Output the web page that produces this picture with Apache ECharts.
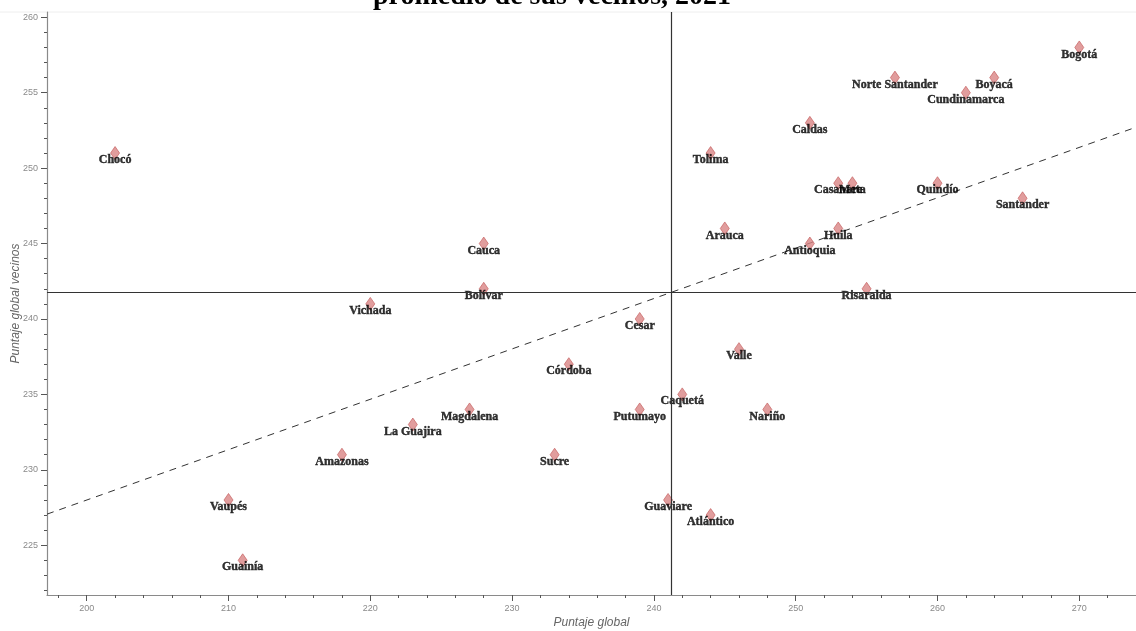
<!DOCTYPE html>
<html>
<head>
<meta charset="utf-8">
<title>Puntaje global vs vecinos</title>
<script src="https://cdn.jsdelivr.net/npm/echarts@6.0.0/dist/echarts.min.js"></script>
<style>
    html, body { margin: 0; padding: 0; background: #fff; }
    #moran-chart { width: 1136px; height: 631px; }
</style>
</head>
<body>
<div id="moran-chart"></div>
<script>
// departamentos: puntaje global vs promedio de los vecinos (2021)
var departamentos = ['Chocó', 'Bogotá', 'Norte Santander', 'Boyacá', 'Cundinamarca', 'Caldas', 'Tolima',
    'Casanare', 'Meta', 'Quindío', 'Santander', 'Arauca', 'Huila', 'Antioquia', 'Risaralda', 'Cauca',
    'Bolívar', 'Vichada', 'Cesar', 'Córdoba', 'Valle', 'Caquetá', 'Putumayo', 'Nariño', 'Magdalena',
    'La Guajira', 'Amazonas', 'Sucre', 'Guaviare', 'Atlántico', 'Vaupés', 'Guainía'];
var puntajeGlobal = [202, 270, 257, 264, 262, 251, 244, 253, 254, 260, 266, 245, 253, 251, 255, 228,
    228, 220, 239, 234, 246, 242, 239, 248, 227, 223, 218, 233, 241, 244, 210, 211];
var puntajeVecinos = [251, 258, 256, 256, 255, 253, 251, 249, 249, 249, 248, 246, 246, 245, 242, 245,
    242, 241, 240, 237, 238, 235, 234, 234, 234, 233, 231, 231, 228, 227, 228, 224];

// medias y recta de ajuste
var mediaX = 241.2;
var mediaY = 241.75;
var rectaAjuste = [[197.2, 227.06], [274, 252.71]];

// ejes
var xLabels = [200, 210, 220, 230, 240, 250, 260, 270];
var xMinorTicks = [198, 200, 202, 204, 206, 208, 210, 212, 214, 216, 218, 220, 222, 224, 226, 228, 230,
    232, 234, 236, 238, 240, 242, 244, 246, 248, 250, 252, 254, 256, 258, 260, 262, 264, 266, 268, 270, 272, 274];
var yLabels = [225, 230, 235, 240, 245, 250, 255, 260];
var yMinorTicks = [222, 223, 224, 225, 226, 227, 228, 229, 230, 231, 232, 233, 234, 235, 236, 237, 238, 239,
    240, 241, 242, 243, 244, 245, 246, 247, 248, 249, 250, 251, 252, 253, 254, 255, 256, 257, 258, 259, 260];

var puntos = [];
departamentos.forEach(function (nombre, i) {
    puntos.push({ name: nombre, value: [puntajeGlobal[i], puntajeVecinos[i]] });
});

var axisGray = '#8a8a8a';
var tickFont = { color: '#8a8a8a', fontSize: 9, fontFamily: 'Liberation Sans' };

var chart = echarts.init(document.getElementById('moran-chart'));
var option = {
    animation: false,
    backgroundColor: '#fff',
    graphic: [{
        // titulo (cortado arriba como en el original)
        type: 'text',
        x: 373,
        y: -17,
        style: {
            text: 'promedio de sus vecinos, 2021',
            font: 'bold 28px "Liberation Serif"',
            fill: '#000',
            verticalAlign: 'top'
        }
    }, {
        // marco superior
        type: 'line',
        shape: { x1: 0, y1: 12, x2: 1136, y2: 12 },
        style: { stroke: '#eeeeee', lineWidth: 1 }
    }],
    grid: { left: 47, right: 0, top: 12, bottom: 36, outerBoundsMode: 'none', containLabel: false },
    xAxis: [{
        type: 'value',
        min: 197.2,
        max: 274,
        name: 'Puntaje global',
        nameLocation: 'middle',
        nameGap: 22,
        nameMoveOverlap: false,
        nameTextStyle: { color: '#666', fontSize: 12, fontStyle: 'italic', fontFamily: 'Liberation Sans' },
        axisLine: { show: true, lineStyle: { color: axisGray, width: 1.2 } },
        axisTick: { show: true, length: 3, customValues: xMinorTicks, lineStyle: { color: '#555' } },
        axisLabel: Object.assign({ customValues: xLabels, margin: 9 }, tickFont),
        splitLine: { show: false }
    }, {
        // ticks mayores
        type: 'value',
        gridIndex: 0,
        position: 'bottom',
        min: 197.2,
        max: 274,
        axisLine: { show: false },
        axisTick: { show: true, length: 6, customValues: xLabels, lineStyle: { color: '#555' } },
        axisLabel: { show: false },
        splitLine: { show: false }
    }],
    yAxis: [{
        type: 'value',
        min: 221.7,
        max: 260.35,
        name: 'Puntaje global vecinos',
        nameLocation: 'middle',
        nameGap: 25,
        nameMoveOverlap: false,
        nameTextStyle: { color: '#666', fontSize: 12, fontStyle: 'italic', fontFamily: 'Liberation Sans' },
        axisLine: { show: true, lineStyle: { color: axisGray, width: 1.2 } },
        axisTick: { show: true, length: 3, customValues: yMinorTicks, lineStyle: { color: '#555' } },
        axisLabel: Object.assign({ customValues: yLabels, margin: 9 }, tickFont),
        splitLine: { show: false }
    }, {
        type: 'value',
        gridIndex: 0,
        position: 'left',
        min: 221.7,
        max: 260.35,
        axisLine: { show: false },
        axisTick: { show: true, length: 6, customValues: yLabels, lineStyle: { color: '#555' } },
        axisLabel: { show: false },
        splitLine: { show: false }
    }],
    series: [{
        name: 'ajuste',
        type: 'line',
        data: rectaAjuste,
        symbol: 'none',
        silent: true,
        z: 1,
        lineStyle: { color: '#333', width: 1, type: [7, 6] },
        markLine: {
            silent: true,
            symbol: 'none',
            label: { show: false },
            lineStyle: { color: '#333', width: 1.2, type: 'solid' },
            data: [{ xAxis: mediaX }, { yAxis: mediaY }]
        }
    }, {
        name: 'departamentos',
        type: 'scatter',
        data: puntos,
        symbol: 'diamond',
        symbolSize: [9, 13],
        z: 3,
        itemStyle: { color: '#da8585', borderColor: '#c25a5a', borderWidth: 0.8 },
        label: {
            show: true,
            formatter: '{b}',
            position: 'inside',
            offset: [0, 7],
            color: '#000',
            textBorderColor: '#000',
            textBorderWidth: 0.4,
            fontFamily: 'Liberation Serif',
            fontWeight: 'bold',
            fontSize: 12
        }
    }]
};
chart.setOption(option);
</script>
</body>
</html>
